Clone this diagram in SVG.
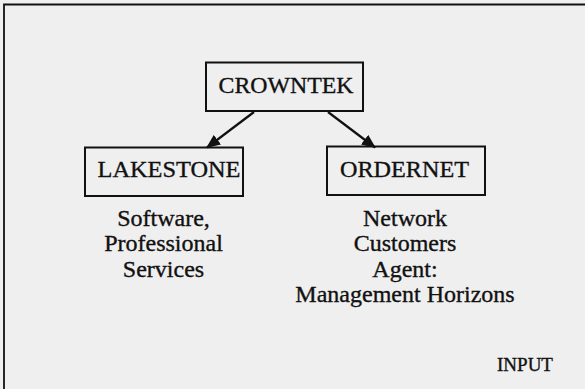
<svg xmlns="http://www.w3.org/2000/svg" width="585" height="389" viewBox="0 0 585 389">
<defs>
<style>
.box{fill:none;stroke:#111;stroke-width:2}
.t{font-family:"Liberation Serif","Times New Roman",serif;fill:#111;stroke:#111;stroke-width:0.35;text-anchor:middle}
.n{font-size:24px}
.c{stroke:#111;stroke-width:2.2;fill:none}
</style>
<marker id="ah" markerWidth="14" markerHeight="12" refX="13" refY="6" orient="auto" markerUnits="userSpaceOnUse">
<path d="M0,0 L14,6 L0,12 Z" fill="#111"/>
</marker>
</defs>
<rect width="585" height="389" fill="#efefef"/>
<path d="M4,389 V4.5 H585" fill="none" stroke="#111" stroke-width="1.8"/>
<g id="crowntek">
<rect class="box" x="206" y="62.5" width="157" height="48.5"/>
<text class="t n" x="286" y="93" textLength="135" lengthAdjust="spacingAndGlyphs">CROWNTEK</text>
</g>
<g id="lakestone">
<rect class="box" x="85" y="147.5" width="158" height="48.5"/>
<text class="t n" x="169" y="177" textLength="143" lengthAdjust="spacingAndGlyphs">LAKESTONE</text>
<text class="t n" x="163.5" y="226">Software,</text>
<text class="t n" x="163.5" y="251">Professional</text>
<text class="t n" x="163.5" y="276.5">Services</text>
</g>
<g id="ordernet">
<rect class="box" x="327" y="146.5" width="158" height="48.5"/>
<text class="t n" x="404.5" y="177" textLength="129" lengthAdjust="spacingAndGlyphs">ORDERNET</text>
<text class="t n" x="405" y="226">Network</text>
<text class="t n" x="405" y="251">Customers</text>
<text class="t n" x="405" y="277">Agent:</text>
<text class="t n" x="405" y="302">Management Horizons</text>
</g>
<g id="input">
<text class="t" x="525" y="371" font-size="19">INPUT</text>
</g>
<g id="connectors">
<line class="c" x1="254" y1="112" x2="207" y2="147.5" marker-end="url(#ah)"/>
<line class="c" x1="328" y1="112" x2="375" y2="147.5" marker-end="url(#ah)"/>
</g>
</svg>
